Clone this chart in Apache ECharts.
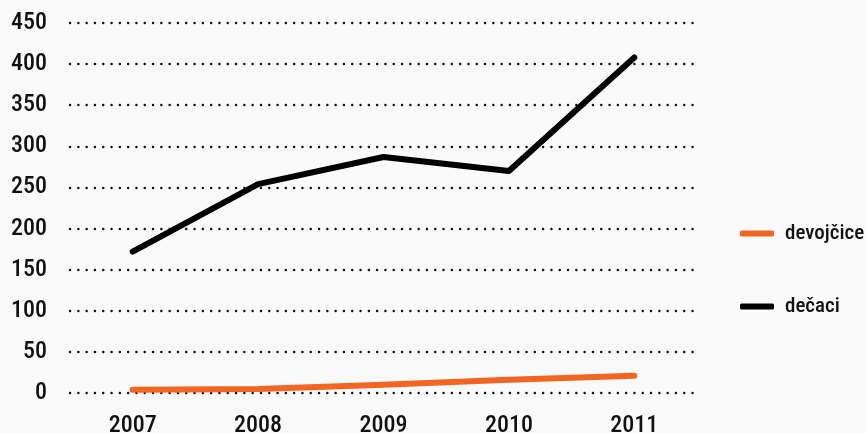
<!DOCTYPE html>
<html><head><meta charset="utf-8">
<script src="https://cdn.jsdelivr.net/npm/echarts@6/dist/echarts.min.js"></script>
<style>html,body{margin:0;padding:0;background:#fafafa;}#c{width:866px;height:433px;}</style>
</head><body><div id="c"></div>
<script>
const years = ['2007','2008','2009','2010','2011'];
const devojcice = [4, 5, 10, 16, 21];
const decaci = [172, 254, 287, 270, 408];
const yTicks = [0, 450, 50];
const font = '"Roboto Condensed","Open Sans",sans-serif';
const chart = echarts.init(document.getElementById('c'));
chart.setOption({
  backgroundColor: '#fafafa',
  animation: false,
  grid: {left: 70, right: 169, top: 23, bottom: 40, containLabel: false, outerBoundsMode: 'none'},
  legend: {
    orient: 'vertical', left: 740, top: 223, itemGap: 52, padding: 0,
    itemWidth: 34, itemHeight: 6,
    icon: 'roundRect',
    textStyle: {fontFamily: font, fontSize: 21, fontWeight: 500, color: '#111', padding: [0,0,0,6]},
    data: ['devojčice', 'dečaci']
  },
  xAxis: {
    type: 'category', data: years, boundaryGap: true,
    axisLine: {show: false}, axisTick: {show: false},
    axisLabel: {fontFamily: font, fontSize: 24, fontWeight: 500, color: '#111', margin: 21}
  },
  yAxis: {
    type: 'value', min: yTicks[0], max: yTicks[1], interval: yTicks[2],
    axisLine: {show: false}, axisTick: {show: false},
    axisLabel: {fontFamily: font, fontSize: 24, fontWeight: 500, color: '#111', margin: 23},
    splitLine: {lineStyle: {color: '#111', width: 2.4, type: [0.1, 8.2], cap: 'round'}}
  },
  series: [
    {name: 'devojčice', type: 'line', data: devojcice, showSymbol: false,
     itemStyle: {color: '#f26522'},
     lineStyle: {color: '#f26522', width: 6, cap: 'round', join: 'round'}},
    {name: 'dečaci', type: 'line', data: decaci, showSymbol: false,
     itemStyle: {color: '#000'},
     lineStyle: {color: '#000', width: 6, cap: 'round', join: 'round'}}
  ]
});
</script></body></html>
